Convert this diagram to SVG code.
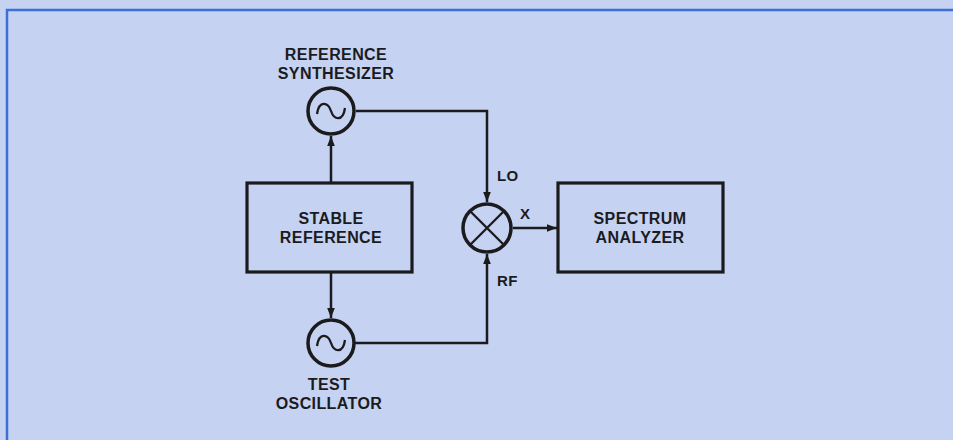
<svg xmlns="http://www.w3.org/2000/svg" width="953" height="440" viewBox="0 0 953 440">
<style>
.bg{fill:#c5d2f2}
.frame{stroke:#3d6fd6;stroke-width:2.5;fill:none}
.box{fill:none;stroke:#1b1b1e;stroke-width:3.2}
.circ{fill:none;stroke:#1b1b1e;stroke-width:3.5}
.wire{fill:none;stroke:#1b1b1e;stroke-width:2.5}
.tl{fill:none;stroke:#1b1b1e;stroke-width:2.3}
.lbl{font-family:"Liberation Sans",Arial,sans-serif;font-weight:bold;font-size:16px;letter-spacing:0.4px;fill:#1b1b1e;text-anchor:middle}
.sm{font-size:15px;text-anchor:start}
</style>
<defs>
<marker id="arr" viewBox="0 0 10 10" refX="10" refY="5" markerWidth="10" markerHeight="10" markerUnits="userSpaceOnUse" orient="auto">
<path d="M0,1.2 L10,5 L0,8.8 Z" fill="#1b1b1e"/>
</marker>
</defs>
<rect class="bg" x="0" y="0" width="953" height="440"/>
<path class="frame" d="M7,440 V10 H953"/>
<g id="connectors">
<path class="wire" d="M331,183 V136" marker-end="url(#arr)"/>
<path class="wire" d="M331,272 V318" marker-end="url(#arr)"/>
<path class="wire" d="M356,111 H487 V202" marker-end="url(#arr)"/>
<path class="wire" d="M355,343 H487 V254" marker-end="url(#arr)"/>
<path class="wire" d="M513,228 H557" marker-end="url(#arr)"/>
<text class="lbl sm" x="497" y="181">LO</text>
<text class="lbl sm" x="520" y="219">X</text>
<text class="lbl sm" x="497" y="286">RF</text>
</g>
<g id="ref-synth">
<circle class="circ" cx="331" cy="111" r="23"/>
<path class="tl" d="M317,114 C319,100 328,102 331,111 C334,120 343,122 345,108"/>
<text class="lbl" x="336" y="60">REFERENCE</text>
<text class="lbl" x="336" y="79">SYNTHESIZER</text>
</g>
<g id="stable-ref">
<rect class="box" x="247" y="183" width="165" height="89"/>
<text class="lbl" x="331" y="224">STABLE</text>
<text class="lbl" x="331" y="243">REFERENCE</text>
</g>
<g id="test-osc">
<circle class="circ" cx="331" cy="343" r="23"/>
<path class="tl" d="M317,346 C319,332 328,334 331,343 C334,352 343,354 345,340"/>
<text class="lbl" x="329" y="390">TEST</text>
<text class="lbl" x="329" y="409">OSCILLATOR</text>
</g>
<g id="mixer">
<circle class="circ" cx="487" cy="228" r="24"/>
<path class="tl" d="M470,211 L504,245 M504,211 L470,245"/>
</g>
<g id="spectrum">
<rect class="box" x="558" y="183" width="165" height="89"/>
<text class="lbl" x="640" y="224">SPECTRUM</text>
<text class="lbl" x="640" y="243">ANALYZER</text>
</g>
</svg>
